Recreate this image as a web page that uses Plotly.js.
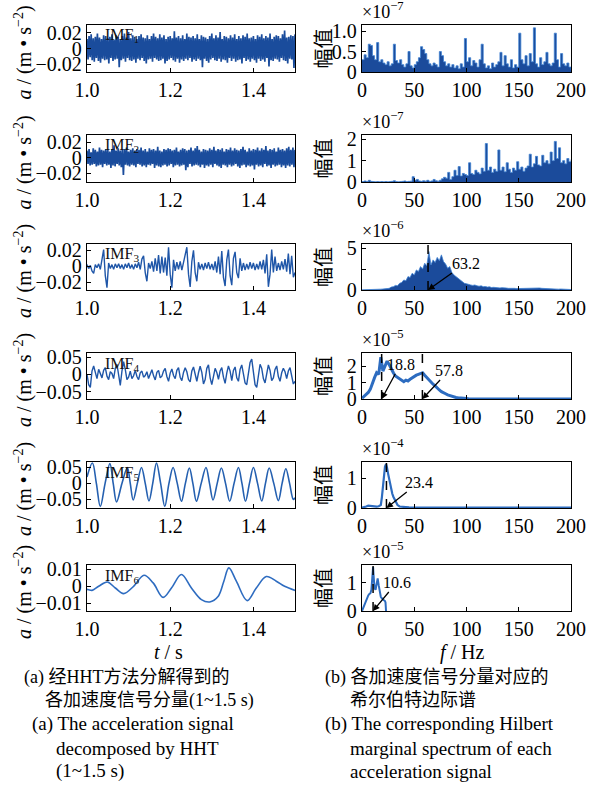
<!DOCTYPE html>
<html>
<head>
<meta charset="utf-8">
<script src="https://cdn.plot.ly/plotly-3.0.1.min.js"></script>
<style>html,body{margin:0;padding:0;background:#fff;}#chart{width:609px;height:787px;}</style>
</head>
<body>
<div id="chart"></div>
<script>
// ---------------- DATA ----------------
const imfNames = ['IMF<sub>1</sub>','IMF<sub>2</sub>','IMF<sub>3</sub>','IMF<sub>4</sub>','IMF<sub>5</sub>','IMF<sub>6</sub>'];
const timeTickVals = [1.0, 1.2, 1.4];
const timeTickText = ['1.0', '1.2', '1.4'];
const freqTickVals = [0, 50, 100, 150, 200];
const freqTickText = ['0', '50', '100', '150', '200'];

// IMF1: t = 1.000 .. 1.500, step 0.0025 s
const imf1 = [0.012,-0.014,0.016,-0.011,0.018,-0.015,0.013,-0.017,0.015,-0.012,
0.019,-0.016,0.014,-0.018,0.012,-0.013,0.017,-0.015,0.016,-0.014,
0.013,-0.019,0.015,-0.012,0.018,-0.016,0.011,-0.014,0.017,-0.013,
0.015,-0.024,0.012,-0.015,0.016,-0.013,0.019,-0.017,0.014,-0.012,
0.021,-0.015,0.013,-0.016,0.017,-0.014,0.015,-0.018,0.012,-0.013,
0.016,-0.015,0.018,-0.012,0.014,-0.016,0.013,-0.019,0.017,-0.014,
0.012,-0.013,0.016,-0.017,0.019,-0.012,0.015,-0.014,0.013,-0.016,
0.018,-0.015,0.014,-0.013,0.017,-0.019,0.012,-0.016,0.015,-0.014,
0.016,-0.012,0.013,-0.015,0.022,-0.017,0.014,-0.013,0.016,-0.018,
0.013,-0.014,0.017,-0.016,0.012,-0.013,0.019,-0.015,0.015,-0.012,
0.014,-0.017,0.016,-0.014,0.013,-0.016,0.018,-0.013,0.012,-0.015,
0.017,-0.024,0.015,-0.013,0.014,-0.016,0.012,-0.018,0.016,-0.014,
0.019,-0.012,0.013,-0.015,0.017,-0.016,0.014,-0.013,0.021,-0.017,
0.012,-0.014,0.016,-0.015,0.015,-0.018,0.013,-0.012,0.017,-0.016,
0.014,-0.013,0.018,-0.017,0.012,-0.015,0.016,-0.014,0.013,-0.019,
0.017,-0.012,0.015,-0.016,0.019,-0.014,0.013,-0.017,0.014,-0.013,
0.016,-0.015,0.012,-0.018,0.017,-0.013,0.015,-0.016,0.018,-0.014,
0.013,-0.017,0.016,-0.012,0.014,-0.023,0.019,-0.015,0.012,-0.016,
0.015,-0.013,0.017,-0.014,0.016,-0.017,0.013,-0.012,0.018,-0.015,
0.023,-0.016,0.014,-0.019,0.015,-0.013,0.017,-0.014,0.016,-0.025,
0.018];

// IMF2: t = 1.000 .. 1.500, step 0.0025 s
const imf2 = [0.009,-0.008,0.011,-0.010,0.007,-0.009,0.012,-0.008,0.010,-0.011,
0.008,-0.010,0.013,-0.009,0.010,-0.012,0.009,-0.008,0.011,-0.010,
0.010,-0.009,0.008,-0.013,0.011,-0.010,0.016,-0.011,0.009,-0.008,
0.012,-0.010,0.009,-0.012,0.010,-0.022,0.011,-0.009,0.013,-0.010,
0.008,-0.011,0.010,-0.009,0.012,-0.010,0.009,-0.012,0.011,-0.008,
0.010,-0.009,0.013,-0.011,0.009,-0.010,0.011,-0.012,0.008,-0.009,
0.012,-0.010,0.010,-0.008,0.011,-0.013,0.009,-0.010,0.014,-0.011,
0.009,-0.012,0.008,-0.010,0.011,-0.009,0.010,-0.011,0.012,-0.010,
0.011,-0.008,0.009,-0.012,0.010,-0.010,0.013,-0.009,0.008,-0.011,
0.010,-0.010,0.012,-0.009,0.011,-0.016,0.009,-0.012,0.010,-0.008,
0.013,-0.011,0.009,-0.010,0.012,-0.009,0.015,-0.010,0.010,-0.012,
0.008,-0.009,0.011,-0.013,0.010,-0.010,0.009,-0.011,0.012,-0.009,
0.010,-0.012,0.014,-0.008,0.009,-0.010,0.011,-0.011,0.010,-0.013,
0.012,-0.009,0.008,-0.010,0.011,-0.012,0.010,-0.009,0.013,-0.011,
0.009,-0.010,0.012,-0.008,0.010,-0.011,0.009,-0.013,0.011,-0.010,
0.014,-0.009,0.010,-0.012,0.008,-0.010,0.012,-0.011,0.009,-0.010,
0.011,-0.015,0.010,-0.009,0.013,-0.011,0.009,-0.010,0.012,-0.012,
0.010,-0.008,0.015,-0.011,0.009,-0.010,0.011,-0.013,0.010,-0.009,
0.012,-0.011,0.008,-0.010,0.013,-0.009,0.010,-0.012,0.011,-0.010,
0.009,-0.013,0.012,-0.010,0.014,-0.011,0.010,-0.009,0.013,-0.012,
0.010];

// IMF3: t = 1.000 .. 1.500, step 0.004 s
const imf3 = [0.002,-0.003,0.001,-0.006,-0.009,0.002,-0.002,0.003,-0.004,0.008,
0.021,-0.012,-0.027,0.004,-0.003,0.002,-0.004,0.003,-0.002,0.003,
-0.003,0.002,-0.004,0.003,-0.002,0.004,-0.003,0.002,-0.004,0.003,
-0.002,0.005,-0.004,0.009,0.013,-0.008,-0.019,0.004,-0.003,0.006,
-0.007,0.010,-0.006,0.014,-0.009,0.012,-0.008,0.011,-0.012,0.024,
-0.010,-0.027,0.008,-0.006,0.005,-0.004,0.006,-0.005,0.004,0.015,
0.024,-0.010,-0.026,0.006,0.020,-0.008,-0.019,0.005,-0.004,0.003,
-0.005,0.004,-0.003,0.005,-0.004,0.003,-0.005,0.006,-0.008,0.012,
-0.010,0.019,-0.014,-0.025,0.008,0.021,-0.012,-0.024,0.010,0.018,
-0.008,-0.015,0.010,-0.006,0.004,-0.005,0.003,-0.004,0.005,-0.003,
0.004,-0.005,0.003,-0.004,0.006,-0.004,0.008,-0.009,0.015,-0.026,
-0.010,0.021,-0.008,0.012,-0.006,0.004,-0.005,0.006,-0.004,0.009,
-0.007,0.016,-0.010,0.013,-0.014,-0.008];

// IMF4: t = 1.000 .. 1.500, step 0.004 s
const imf4 = [0.000,-0.030,-0.038,0.010,0.025,0.008,-0.012,0.015,0.005,-0.010,
0.012,0.020,-0.005,-0.015,0.008,0.003,-0.012,0.018,0.030,-0.008,
-0.032,0.010,0.038,0.015,-0.015,-0.008,0.010,-0.012,-0.004,0.012,
-0.006,-0.015,0.005,0.010,-0.008,-0.003,0.008,-0.012,0.002,0.014,
-0.004,-0.016,0.006,0.012,-0.010,-0.005,0.010,0.018,-0.006,-0.020,
0.004,0.016,-0.003,-0.012,0.012,0.020,-0.008,-0.018,0.006,0.020,
0.008,-0.015,-0.022,0.010,0.022,-0.004,-0.020,0.005,0.024,0.006,
-0.028,-0.015,0.018,0.028,-0.010,-0.030,-0.005,0.018,0.006,-0.014,
0.010,0.020,-0.008,-0.026,0.004,0.025,0.010,-0.018,0.012,0.022,
-0.010,-0.020,0.015,0.028,0.002,-0.025,-0.030,0.010,0.035,0.045,
0.010,-0.030,-0.038,0.005,0.030,0.018,-0.012,-0.025,0.008,0.028,
0.012,-0.018,-0.010,0.015,0.025,-0.006,-0.020,0.005,0.018,0.008,
-0.012,0.010,0.020,-0.005,-0.028,-0.020];

// IMF5: (time, value) at extrema and zero crossings
const imf5T = [1.000,1.013,1.0225,1.032,1.0435,1.055,1.063,1.071,1.084,1.097,1.104,1.111,1.121,1.131,1.140,1.149,1.158,1.167,1.177,1.187,1.197,1.207,1.217,1.227,1.2365,1.246,1.2545,1.263,1.2745,1.286,1.2945,1.303,1.313,1.323,1.333,1.343,1.3535,1.364,1.3725,1.381,1.3905,1.400,1.410,1.420,1.429,1.438,1.449,1.460,1.469,1.478,1.487,1.496,1.500];
const imf5V = [0.020,0.064,0,-0.072,0,0.062,0,-0.058,0,0.050,0,-0.052,0,0.050,0,-0.055,0,0.064,0,-0.072,0,0.050,0,-0.056,0,0.048,0,-0.056,0,0.050,0,-0.052,0,0.048,0,-0.056,0,0.050,0,-0.056,0,0.050,0,-0.055,0,0.048,0,-0.054,0,0.046,0,-0.050,-0.045];

// IMF6: (time, value)
const imf6T = [1.000,1.004,1.012,1.028,1.049,1.068,1.088,1.112,1.137,1.159,1.183,1.203,1.227,1.251,1.275,1.295,1.315,1.329,1.341,1.359,1.385,1.407,1.431,1.455,1.475,1.500];
const imf6V = [-0.0018,-0.0020,-0.0024,0.0000,0.0025,-0.0010,-0.0043,0.0000,0.0065,0.0020,-0.0065,-0.0010,0.0069,-0.0010,-0.0078,-0.0092,-0.0060,0.0030,0.0108,0.0030,-0.0084,-0.0010,0.0057,0.0030,0.0000,-0.0024];

// Hilbert marginal spectra (values in units of the panel multiplier)
// rows 1-4: f = 0 .. 200 Hz, step 2 Hz
const spec1 = [0.30,0.42,0.35,0.68,0.65,0.40,0.30,0.72,0.25,0.30,0.22,0.18,0.25,0.15,0.20,0.68,0.28,0.22,0.30,0.18,
0.12,0.20,0.50,0.15,0.10,0.18,0.25,0.35,0.62,0.55,0.45,0.30,0.20,0.15,0.22,0.18,0.12,0.50,0.40,0.25,
0.15,0.20,0.12,0.18,0.10,0.15,0.08,0.20,0.12,0.82,0.25,0.35,0.15,0.28,0.22,0.12,0.30,0.68,0.20,0.10,
0.15,0.08,0.22,0.12,0.18,0.25,0.48,0.15,0.40,0.20,0.12,0.30,0.10,0.18,0.12,0.95,0.30,0.20,0.40,0.15,
0.45,0.25,1.08,0.20,0.12,0.35,0.18,0.25,0.48,0.20,0.15,0.22,0.95,0.30,0.12,0.45,0.20,0.15,0.22,0.12,0.05];
const spec2 = [0.02,0.05,0.02,0.08,0.03,0.02,0.01,0.02,0.01,0.02,0.01,0.02,0.01,0.02,0.03,0.06,0.02,0.01,0.02,0.03,
0.05,0.02,0.03,0.04,0.25,0.08,0.12,0.05,0.03,0.06,0.04,0.08,0.03,0.05,0.12,0.06,0.04,0.08,0.15,0.22,
0.18,0.45,0.12,0.25,0.55,0.30,0.72,0.28,0.40,0.35,0.30,0.90,0.40,0.35,0.55,0.45,0.38,0.65,0.50,1.80,
0.55,0.70,0.45,0.60,0.50,1.50,0.55,0.70,0.48,0.90,0.60,0.45,0.65,0.55,0.95,0.60,0.70,0.50,0.65,0.75,
1.30,0.70,0.85,1.20,0.80,0.75,1.25,0.90,1.00,0.85,1.40,1.00,1.90,1.10,1.60,0.90,1.00,0.85,1.10,0.95,1.05];
const spec3 = [0.02,0.02,0.03,0.02,0.03,0.04,0.05,0.06,0.08,0.10,0.12,0.15,0.25,0.20,0.35,0.40,0.55,0.50,0.80,0.90,
1.20,1.10,1.60,1.50,2.00,1.80,2.40,2.20,2.80,2.50,3.20,2.90,4.60,3.00,3.60,3.30,3.90,3.50,4.20,3.40,
3.10,2.60,2.80,2.10,1.80,1.60,1.30,1.10,0.95,0.80,0.75,0.65,0.60,0.55,0.60,0.50,0.45,0.50,0.40,0.42,
0.35,0.38,0.30,0.32,0.28,0.30,0.25,0.28,0.22,0.24,0.20,0.22,0.18,0.20,0.17,0.18,0.16,0.18,0.20,0.22,
0.20,0.24,0.22,0.25,0.22,0.24,0.20,0.18,0.16,0.15,0.14,0.12,0.13,0.11,0.10,0.12,0.09,0.10,0.08,0.07,0.06];
const spec4 = [0.05,0.15,0.25,0.40,0.60,1.00,1.30,1.60,1.50,2.55,1.70,2.00,2.30,2.10,1.80,1.60,1.40,1.30,1.20,1.10,
1.05,1.15,1.10,1.20,1.30,1.35,1.45,1.50,1.55,1.60,1.45,1.30,1.20,1.05,0.90,0.80,0.65,0.55,0.45,0.40,
0.32,0.25,0.20,0.15,0.12,0.09,0.07,0.05,0.04,0.03,0.03,0.02,0.01,0,0,0,0,0,0,0,
0,0,0,0,0,0,0,0,0,0,0,0,0,0,0,0,0,0,0,0,
0,0,0,0,0,0,0,0,0,0,0,0,0,0,0,0,0,0,0,0,0];
const spec5F = [0,2,4,6,8,10,12,14,16,18,19,20,21,22,23,23.4,24,25,26,27,28,29,30,32,34,36,40,45,50,60,80,100,120,140,160,180,200];
const spec5 = [0.01,0.02,0.05,0.08,0.07,0.06,0.04,0.05,0.06,0.10,0.35,0.75,1.20,1.40,1.48,1.45,1.35,1.15,0.95,0.78,0.62,0.48,0.38,0.22,0.10,0.05,0.03,0.02,0.015,0.01,0.01,0.01,0.01,0.01,0.01,0.01,0.01];
const spec6F = [0,2,4,5,6,7,8,9,10,10.6,11,12,13,14,15,16,17,18,19,20,21,22,22.5,23];
const spec6 = [0.0,0.2,0.4,0.5,0.55,0.6,0.62,0.75,1.1,1.55,1.3,0.8,0.75,1.0,1.15,0.9,0.6,0.5,0.45,0.4,0.38,0.35,0.3,0.0];

const specExponent = ['−7','−7','−6','−5','−4','−5'];
const peakFreqs = [[], [], [63.2], [18.8, 57.8], [23.4], [10.6]];

// ---------------- LAYOUT HELPERS ----------------
const W = 609, H = 787;
const FONT = 'Liberation Serif, Times New Roman, serif';
const CJK = 'Liberation Serif, Noto Sans CJK SC, sans-serif';
const px = x => x / W;
const py = y => 1 - y / H;
const rowsPx = [[25,72],[135,182],[244,290],[353,399],[462,508],[565,611]];
const leftX = [87, 295], rightX = [362, 571];
const leftRanges = [[-0.030,0.030],[-0.031,0.029],[-0.030,0.028],[-0.072,0.063],[-0.077,0.067],[-0.0145,0.0125]];
const leftTicks = [[-0.02,0,0.02],[-0.02,0,0.02],[-0.02,0,0.02],[-0.05,0,0.05],[-0.05,0,0.05],[-0.01,0,0.01]];
const leftTickText = [['−0.02','0','0.02'],['−0.02','0','0.02'],['−0.02','0','0.02'],['−0.05','0','0.05'],['−0.05','0','0.05'],['−0.01','0','0.01']];
const rightRanges = [[0,1.15],[0,2.2],[0,5.5],[0,2.8],[0,1.55],[0,1.62]];
const rightTicks = [[0,0.5,1],[0,1,2],[0,2.5,5],[0,1,2],[0,1],[0,1]];
const rightTickText = [['0','0.5','1.0'],['0','1','2'],['0',' ','5'],['0','1','2'],['0','1'],['0','1']];
// arrow label offsets (pixels from arrow head to label centre)
const arrowOffsets = [[], [], [[38,-27]], [[19,-35],[27,-29]], [[33,-26]], [[24,-29]]];

const lineBlue = '#1f56a8';
const darkBlue = '#1b4b9b';
const lightBlue = '#3f82d2';

const sfx = n => (n === 1 ? '' : String(n));

const timeSeries = [
  {y: imf1, x0: 1.0, dx: 0.0025, w: 1.7, c: '#1a4c9c'},
  {y: imf2, x0: 1.0, dx: 0.0025, w: 1.7, c: '#1a4c9c'},
  {y: imf3, x0: 1.0, dx: 0.004, w: 1.4, c: lineBlue},
  {y: imf4, x0: 1.0, dx: 0.004, w: 1.4, c: lineBlue},
  {x: imf5T, y: imf5V, spline: true, w: 1.6, c: '#2560b0'},
  {x: imf6T, y: imf6V, spline: true, w: 1.6, c: '#2e6cc0'}
];
const spectra = [
  {y: spec1, x0: 0, dx: 2, fill: true, shape: 'hv'},
  {y: spec2, x0: 0, dx: 2, fill: true, shape: 'hv'},
  {y: spec3, x0: 0, dx: 2, fill: true, shape: 'linear'},
  {y: spec4, x0: 0, dx: 2, fill: false, w: 3},
  {x: spec5F, y: spec5, fill: false, w: 2.2},
  {x: spec6F, y: spec6, fill: false, w: 2}
];

const traces = [];
const layout = {
  width: W, height: H,
  margin: {l: 0, r: 0, t: 0, b: 0},
  paper_bgcolor: '#fff', plot_bgcolor: '#fff',
  showlegend: false,
  font: {family: FONT, size: 20, color: '#000'},
  annotations: [], shapes: []
};

const axisBase = {
  showline: true, mirror: true, linecolor: '#000', linewidth: 1.3,
  ticks: 'inside', ticklen: 4, tickcolor: '#000', tickwidth: 1,
  showgrid: false, zeroline: false, fixedrange: true,
  tickfont: {family: FONT, size: 20, color: '#000'}
};

for (let r = 0; r < 6; r++) {
  const [top, bot] = rowsPx[r];
  const yd = [py(bot), py(top)];
  const nL = 2 * r + 1, nR = 2 * r + 2;

  // left: time series
  const ts = timeSeries[r];
  const tL = {type: 'scatter', mode: 'lines', xaxis: 'x' + sfx(nL), yaxis: 'y' + sfx(nL),
    y: ts.y, line: {color: ts.c, width: ts.w, shape: ts.spline ? 'spline' : 'linear'}, hoverinfo: 'skip'};
  if (ts.x) tL.x = ts.x; else { tL.x0 = ts.x0; tL.dx = ts.dx; }
  traces.push(tL);
  layout['xaxis' + sfx(nL)] = Object.assign({}, axisBase, {domain: [px(leftX[0]), px(leftX[1])], range: [1.0, 1.5],
    tickvals: timeTickVals, ticktext: timeTickText, anchor: 'y' + sfx(nL)});
  layout['yaxis' + sfx(nL)] = Object.assign({}, axisBase, {domain: yd, range: leftRanges[r],
    tickvals: leftTicks[r], ticktext: leftTickText[r], anchor: 'x' + sfx(nL)});

  // right: spectrum
  const sp = spectra[r];
  const tR = {type: 'scatter', mode: 'lines', xaxis: 'x' + nR, yaxis: 'y' + nR, y: sp.y, hoverinfo: 'skip'};
  if (sp.x) tR.x = sp.x; else { tR.x0 = sp.x0; tR.dx = sp.dx; }
  if (sp.fill) { tR.fill = 'tozeroy'; tR.fillcolor = darkBlue; tR.line = {color: lightBlue, width: 0.8, shape: sp.shape}; }
  else { tR.line = {color: '#2d6cc0', width: sp.w}; }
  traces.push(tR);
  layout['xaxis' + nR] = Object.assign({}, axisBase, {domain: [px(rightX[0]), px(rightX[1])], range: [0, 200],
    tickvals: freqTickVals, ticktext: freqTickText, anchor: 'y' + nR});
  layout['yaxis' + nR] = Object.assign({}, axisBase, {domain: yd, range: rightRanges[r],
    tickvals: rightTicks[r], ticktext: rightTickText[r], anchor: 'x' + nR});

  // IMF label
  layout.annotations.push({xref: 'paper', yref: 'paper', x: px(103), y: py(top + 11), xanchor: 'left', yanchor: 'middle',
    text: imfNames[r], showarrow: false, font: {family: FONT, size: 16, color: '#111'}});
  // left y-label
  layout.annotations.push({xref: 'paper', yref: 'paper', x: px(23), y: py((top + bot) / 2 + 4), xanchor: 'center', yanchor: 'middle',
    textangle: -90, text: '<i>a</i> / (m • s<sup>−2</sup>)', showarrow: false, font: {family: FONT, size: 20}});
  // right y-label
  layout.annotations.push({xref: 'paper', yref: 'paper', x: px(322), y: py((top + bot) / 2), xanchor: 'center', yanchor: 'middle',
    textangle: -90, text: '幅值', showarrow: false, font: {family: 'Noto Sans CJK SC, sans-serif', size: 20}});
  // multiplier
  layout.annotations.push({xref: 'paper', yref: 'paper', x: px(360), y: py(top - 1), xanchor: 'left', yanchor: 'bottom',
    text: '×10<sup>' + specExponent[r] + '</sup>', showarrow: false, font: {family: FONT, size: 18}});

  // peak markers
  peakFreqs[r].forEach((f, k) => {
    layout.shapes.push({type: 'line', xref: 'x' + nR, yref: 'y' + nR + ' domain', x0: f, x1: f, y0: 0, y1: 1,
      line: {color: '#000', width: 1.5, dash: 'dash'}});
    const off = arrowOffsets[r][k];
    layout.annotations.push({xref: 'x' + nR, yref: 'y' + nR, x: f, y: 0, text: f.toFixed(1), showarrow: true,
      ax: off[0], ay: off[1], arrowhead: 2, arrowsize: 1, arrowwidth: 1.3, arrowcolor: '#000', standoff: 0,
      font: {family: FONT, size: 16, color: '#000'}});
  });
}

// axis titles and captions
const captions = [
  {x: 168, y: 652, a: 'center', t: '<i>t</i> / s', f: FONT, s: 20},
  {x: 462, y: 652, a: 'center', t: '<i>f</i> / Hz', f: FONT, s: 20},
  {x: 22, y: 677, a: 'left', t: '(a) 经HHT方法分解得到的', f: CJK, s: 18},
  {x: 43, y: 700, a: 'left', t: '各加速度信号分量(1~1.5 s)', f: CJK, s: 18},
  {x: 30, y: 724, a: 'left', t: '(a) The acceleration signal', f: FONT, s: 19},
  {x: 54, y: 748, a: 'left', t: 'decomposed by HHT', f: FONT, s: 19},
  {x: 54, y: 771, a: 'left', t: '(1~1.5 s)', f: FONT, s: 19},
  {x: 323, y: 677, a: 'left', t: '(b) 各加速度信号分量对应的', f: CJK, s: 18},
  {x: 348, y: 700, a: 'left', t: '希尔伯特边际谱', f: CJK, s: 18},
  {x: 323, y: 724, a: 'left', t: '(b) The corresponding Hilbert', f: FONT, s: 19},
  {x: 348, y: 748, a: 'left', t: 'marginal spectrum of each', f: FONT, s: 19},
  {x: 348, y: 771, a: 'left', t: 'acceleration signal', f: FONT, s: 19}
];
captions.forEach(c => layout.annotations.push({xref: 'paper', yref: 'paper', x: px(c.x), y: py(c.y), xanchor: c.a, yanchor: 'middle',
  text: c.t, showarrow: false, font: {family: c.f, size: c.s, color: '#000'}}));

Plotly.newPlot('chart', traces, layout, {staticPlot: true, displayModeBar: false});
</script>
</body>
</html>
